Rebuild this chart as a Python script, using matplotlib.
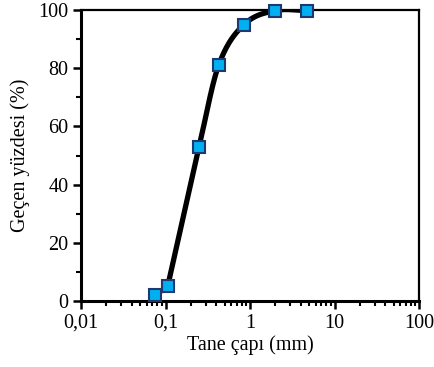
import matplotlib
matplotlib.use("Agg")
import matplotlib.pyplot as plt
import numpy as np
from matplotlib.ticker import FixedLocator, FixedFormatter, LogLocator, MultipleLocator, NullFormatter

# elek açıklıkları (mm) ve geçen yüzdeler
tane_capi = [0.075, 0.106, 0.25, 0.425, 0.85, 2.0, 4.75]
gecen = [2.0, 5.0, 53.0, 81.0, 95.0, 99.8, 99.8]
x_ticks = [0.01, 0.1, 1, 10, 100]
x_tick_labels = ["0,01", "0,1", "1", "10", "100"]

plt.rcParams['font.family'] = ['Liberation Serif', 'DejaVu Serif']


def yumusak_cizgi(xs, ys, n=40):
    """kübik Hermite (sonlu fark egimleri), log-x uzayinda"""
    x = np.log10(xs)
    y = np.asarray(ys, dtype=float)
    h = np.diff(x)
    d = np.diff(y) / h
    m = np.empty_like(y)
    m[0], m[-1] = d[0], d[-1]
    m[1:-1] = (y[2:] - y[:-2]) / (x[2:] - x[:-2])
    # ilk parça düz, ikinci noktadan sonra dik çıkış
    m[1] = d[1]
    out_x, out_y = [], []
    t = np.linspace(0, 1, n)
    h00 = 2 * t ** 3 - 3 * t ** 2 + 1
    h10 = t ** 3 - 2 * t ** 2 + t
    h01 = -2 * t ** 3 + 3 * t ** 2
    h11 = t ** 3 - t ** 2
    for k in range(len(h)):
        out_x.extend(x[k] + t * h[k])
        if k == 0:
            out_y.extend(y[k] + t * (y[k + 1] - y[k]))
        else:
            out_y.extend(h00 * y[k] + h10 * h[k] * m[k] + h01 * y[k + 1] + h11 * h[k] * m[k + 1])
    return 10 ** np.array(out_x), np.array(out_y)


fig = plt.figure(figsize=(4.34, 3.67), dpi=100, facecolor='white')
ax = fig.add_axes([81 / 434, 66 / 367, 338 / 434, 291 / 367])

cx, cy = yumusak_cizgi(tane_capi, gecen)
ax.plot(cx, cy, color='black', linewidth=3.8, solid_capstyle='round', zorder=2)
ax.plot(tane_capi, gecen, linestyle='none', marker='s', markersize=8.5,
        markerfacecolor='#00B0F0', markeredgecolor='#1F3870', markeredgewidth=1.5,
        zorder=3, clip_on=False)

ax.set_xscale('log')
ax.set_xlim(0.01, 100)
ax.set_ylim(0, 100)
ax.xaxis.set_major_locator(FixedLocator(x_ticks))
ax.xaxis.set_major_formatter(FixedFormatter(x_tick_labels))
ax.xaxis.set_minor_locator(LogLocator(base=10, subs=np.arange(2, 10)))
ax.xaxis.set_minor_formatter(NullFormatter())
ax.yaxis.set_major_locator(MultipleLocator(20))
ax.yaxis.set_minor_locator(MultipleLocator(10))

ax.tick_params(which='major', direction='out', length=6, width=1.8, labelsize=14.5, pad=3)
ax.tick_params(which='minor', direction='out', length=3.5, width=1.5)
ax.tick_params(axis='x', which='both', top=False)
ax.tick_params(axis='y', which='both', right=False)

for s in ['left', 'bottom']:
    ax.spines[s].set_linewidth(2.2)
for s in ['top', 'right']:
    ax.spines[s].set_linewidth(1.6)

ax.set_xlabel("Tane çapı (mm)", fontsize=14.5, labelpad=2)
ax.set_ylabel("Geçen yüzdesi (%)", fontsize=14.5, labelpad=6)

fig.savefig("out.png", dpi=100, facecolor='white')
